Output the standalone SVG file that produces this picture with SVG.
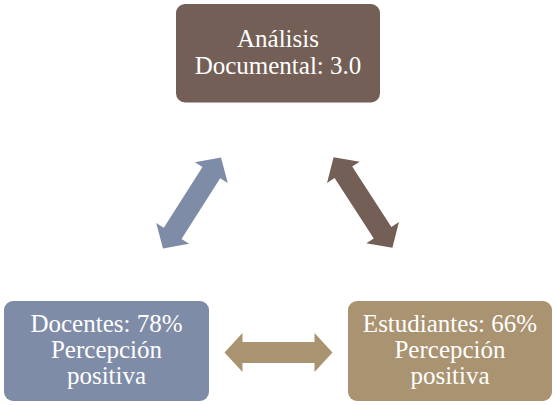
<svg xmlns="http://www.w3.org/2000/svg" width="556" height="405" viewBox="0 0 556 405">
<style>
.box{stroke:none}
.t{font-size:25px;fill:#ffffff;text-anchor:middle}
</style>
<defs>
<path id="arr" d="M -54 0 L -36 -19.5 L -36 -10.5 L 36 -10.5 L 36 -19.5 L 54 0 L 36 19.5 L 36 10.5 L -36 10.5 L -36 19.5 Z"/>
</defs>
<rect width="556" height="405" fill="#ffffff"/>
<g id="connectors">
<use href="#arr" fill="#7F8CA8" transform="translate(192 203) rotate(-57.5)"/>
<use href="#arr" fill="#735F55" transform="translate(363 202.5) rotate(57)"/>
<use href="#arr" fill="#AA9370" transform="translate(278.5 352.5)"/>
</g>
<g id="node-analisis" font-family="'Liberation Serif', serif">
<rect class="box" x="176" y="4" width="204" height="98.5" rx="9" fill="#735F55"/>
<text class="t" x="278" y="47">Análisis</text>
<text class="t" x="278" y="74">Documental: 3.0</text>
</g>
<g id="node-docentes" font-family="'Liberation Serif', serif">
<rect class="box" x="4" y="301" width="205" height="100" rx="9" fill="#7F8CA8"/>
<text class="t" x="106.5" y="332">Docentes: 78%</text>
<text class="t" x="106.5" y="358">Percepción</text>
<text class="t" x="106.5" y="384">positiva</text>
</g>
<g id="node-estudiantes" font-family="'Liberation Serif', serif">
<rect class="box" x="348" y="301" width="204" height="100" rx="9" fill="#AA9370"/>
<text class="t" x="450" y="332">Estudiantes: 66%</text>
<text class="t" x="450" y="358">Percepción</text>
<text class="t" x="450" y="384">positiva</text>
</g>
</svg>
